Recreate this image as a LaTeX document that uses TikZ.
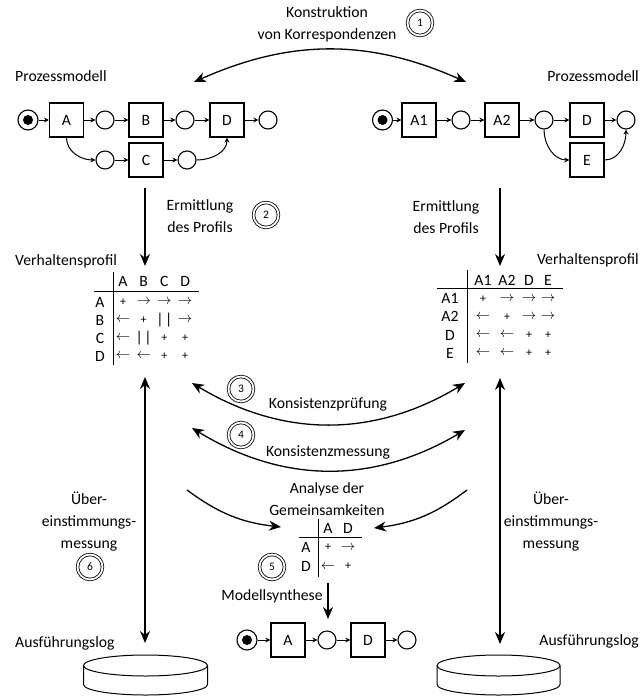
\documentclass[tikz,border=0pt]{standalone}
\usepackage{fontspec}
\setmainfont{Carlito}
\usetikzlibrary{arrows.meta}

\newcommand{\fwdrel}{{\fontsize{15.5}{15.5}\selectfont$\rightarrow$}}
\newcommand{\bwdrel}{{\fontsize{15.5}{15.5}\selectfont$\leftarrow$}}
\newcommand{\exclrel}{|\kern1.5pt|}
\newcommand{\inrel}{{\fontsize{12}{12}\selectfont+}}

\tikzset{
	trans/.style={draw, line width=1.2pt, minimum size=34pt, inner sep=0pt},
	place/.style={draw, circle, line width=1.1pt, minimum size=18pt, inner sep=0pt},
	startplace/.style={place, minimum size=20pt, path picture={\fill (path picture bounding box.center) circle (5pt);}},
	flow/.style={-{Stealth[length=5pt,width=5pt]}, line width=1pt},
	bigarrow/.style={-{Stealth[length=12pt,width=10pt]}, line width=1.3pt},
	twoway/.style={{Stealth[length=12pt,width=10pt]}-{Stealth[length=12pt,width=10pt]}, line width=1.3pt},
	stepno/.style={circle, draw, double, line width=0.8pt, double distance=1.8pt, minimum size=25pt, inner sep=0pt, font=\fontsize{11.5}{11.5}\selectfont},
	txt/.style={align=center, inner sep=0pt},
	cell/.style={inner sep=0pt},
}

\begin{document}
\begin{tikzpicture}[x=1pt, y=1pt, font=\fontsize{15.7}{22}\selectfont]
	\useasboundingbox (0,0) rectangle (640,-696);

	% Prozessmodell links
	\node[txt, anchor=west] (pmL) at (15,-76) {Prozessmodell};
	\node[startplace] (ls) at (28,-120) {};
	\node[trans] (lA) at (66.5,-120) {A};
	\node[place] (lp1) at (105,-120) {};
	\node[trans] (lB) at (146,-120) {B};
	\node[place] (lp2) at (185,-120) {};
	\node[trans] (lD) at (227,-120) {D};
	\node[place] (lp3) at (268,-120) {};
	\node[place] (lp4) at (105,-160) {};
	\node[trans] (lC) at (146,-160) {C};
	\node[place] (lp5) at (187,-160) {};
	\draw[flow] (ls) -- (lA);
	\draw[flow] (lA) -- (lp1);
	\draw[flow] (lp1) -- (lB);
	\draw[flow] (lB) -- (lp2);
	\draw[flow] (lp2) -- (lD);
	\draw[flow] (lD) -- (lp3);
	\draw[flow] (lp4) -- (lC);
	\draw[flow] (lC) -- (lp5);
	\draw[flow] (lA.south) to[out=-90, in=180] (lp4);
	\draw[flow] (lp5) to[out=0, in=-90] (lD.south);

	% Prozessmodell rechts
	\node[txt, anchor=east] (pmR) at (639,-76) {Prozessmodell};
	\node[startplace] (rs) at (382.5,-120) {};
	\node[trans] (rA1) at (419,-120) {A1};
	\node[place] (rp1) at (461,-120) {};
	\node[trans] (rA2) at (502,-120) {A2};
	\node[place] (rp2) at (544,-120) {};
	\node[trans] (rD) at (587,-120) {D};
	\node[place] (rp3) at (626,-120) {};
	\node[trans] (rE) at (587,-160) {E};
	\draw[flow] (rs) -- (rA1);
	\draw[flow] (rA1) -- (rp1);
	\draw[flow] (rp1) -- (rA2);
	\draw[flow] (rA2) -- (rp2);
	\draw[flow] (rp2) -- (rD);
	\draw[flow] (rD) -- (rp3);
	\draw[flow] (rp2.south) to[out=-90, in=180] (rE.west);
	\draw[flow] (rE.east) to[out=0, in=-90] (rp3.south);

	% (1) Korrespondenzen
	\node[txt] (korr) at (327,-24) {Konstruktion\\von Korrespondenzen};
	\node[stepno] (n1) at (420,-23) {1};
	\coordinate (k1l) at (194,-82);
	\coordinate (k1r) at (466,-82);
	\draw[twoway] (k1l) to[bend left=24] (k1r);

	% (2) Ermittlung des Profils
	\node[txt] (ermL) at (200,-216) {Ermittlung\\des Profils};
	\node[stepno] (n2) at (266,-215) {2};
	\node[txt] (ermR) at (446,-217) {Ermittlung\\des Profils};
	\coordinate (e1) at (145,-188);
	\coordinate (e2) at (145,-266);
	\coordinate (e3) at (500,-188);
	\coordinate (e4) at (500,-266);
	\draw[bigarrow] (e1) -- (e2);
	\draw[bigarrow] (e3) -- (e4);

	% Verhaltensprofil links
	\node[txt, anchor=west] (vpL) at (15,-261) {Verhaltensprofil};
	\foreach \name [count=\i] in {A,B,C,D} {
		\node[cell] (lh\i) at ({102.3+20.7*\i},-281) {\name};
		\node[cell] (lr\i) at (100,{-284-18*\i}) {\name};
	}
	\foreach \row [count=\i] in {{\inrel,\fwdrel,\fwdrel,\fwdrel},{\bwdrel,\inrel,\exclrel,\fwdrel},{\bwdrel,\exclrel,\inrel,\inrel},{\bwdrel,\bwdrel,\inrel,\inrel}}
		\foreach \e [count=\j] in \row
			\node[cell] (lm-\i-\j) at (lh\j |- lr\i) {\e};
	\draw[line width=1pt] (113,-272) -- (113,-365);
	\draw[line width=1pt] (94,-291) -- (199,-291);

	% Verhaltensprofil rechts
	\node[txt, anchor=east] (vpR) at (639,-260) {Verhaltensprofil};
	\foreach \name/\x [count=\i] in {A1/483,A2/507,D/529,E/548} {
		\node[cell] (rh\i) at (\x,-280) {\name};
		\node[cell] (rr\i) at (450,{-280.5-18.2*\i}) {\name};
	}
	\foreach \row [count=\i] in {{\inrel,\fwdrel,\fwdrel,\fwdrel},{\bwdrel,\inrel,\fwdrel,\fwdrel},{\bwdrel,\bwdrel,\inrel,\inrel},{\bwdrel,\bwdrel,\inrel,\inrel}}
		\foreach \e [count=\j] in \row
			\node[cell] (rm-\i-\j) at (rh\j |- rr\i) {\e};
	\draw[line width=1pt] (467,-270) -- (467,-363);
	\draw[line width=1pt] (437,-288) -- (563,-288);

	% (3) und (4)
	\node[stepno] (n3) at (241,-389) {3};
	\node[txt] (kpr) at (328,-404) {Konsistenzprüfung};
	\coordinate (k3l) at (192,-383);
	\coordinate (k3r) at (465,-383);
	\draw[twoway] (k3l) to[bend right=31] (k3r);
	\node[stepno] (n4) at (241,-435) {4};
	\node[txt] (kme) at (328,-452) {Konsistenzmessung};
	\coordinate (k4l) at (192,-428);
	\coordinate (k4r) at (465,-430);
	\draw[twoway] (k4l) to[bend right=31] (k4r);

	% (5) Gemeinsamkeiten und Synthese
	\node[txt] (gem) at (327,-499) {Analyse der\\Gemeinsamkeiten};
	\coordinate (g1) at (187,-490);
	\coordinate (g2) at (281,-527);
	\coordinate (g3) at (467,-490);
	\coordinate (g4) at (374,-528);
	\draw[bigarrow] (g1) to[bend right=15] (g2);
	\draw[bigarrow] (g3) to[bend left=15] (g4);
	\foreach \name [count=\i] in {A,D} {
		\node[cell] (gh\i) at ({308+20*\i},-528) {\name};
		\node[cell] (gr\i) at (306,{-528.5-19*\i}) {\name};
	}
	\node[cell] (gm-1-1) at (gh1 |- gr1) {\inrel};
	\node[cell] (gm-1-2) at (gh2 |- gr1) {\fwdrel};
	\node[cell] (gm-2-1) at (gh1 |- gr2) {\bwdrel};
	\node[cell] (gm-2-2) at (gh2 |- gr2) {\inrel};
	\draw[line width=1pt] (318,-519) -- (318,-577);
	\draw[line width=1pt] (299,-537) -- (362,-537);
	\node[stepno] (n5) at (272,-567) {5};
	\node[txt] (syn) at (272,-596) {Modellsynthese};
	\coordinate (s1) at (328,-583);
	\coordinate (s2) at (328,-619);
	\draw[bigarrow] (s1) -- (s2);

	% synthetisiertes Modell
	\node[startplace] (bs) at (247,-640) {};
	\node[trans] (bA) at (288,-640) {A};
	\node[place] (bp1) at (327,-640) {};
	\node[trans] (bD) at (368,-640) {D};
	\node[place] (bp2) at (407,-640) {};
	\draw[flow] (bs) -- (bA);
	\draw[flow] (bA) -- (bp1);
	\draw[flow] (bp1) -- (bD);
	\draw[flow] (bD) -- (bp2);

	% (6) Uebereinstimmung mit dem Log
	\node[txt] (uebL) at (89,-522) {Über-\\einstimmungs-\\messung};
	\node[stepno] (n6) at (90,-567) {6};
	\node[txt] (uebR) at (551,-522) {Über-\\einstimmungs-\\messung};
	\coordinate (u1) at (145,-377);
	\coordinate (u2) at (145,-643);
	\coordinate (u3) at (500,-378);
	\coordinate (u4) at (500,-644);
	\draw[twoway] (u1) -- (u2);
	\draw[twoway] (u3) -- (u4);

	% Ausfuehrungslogs
	\node[txt, anchor=west] (logL) at (15,-643) {Ausführungslog};
	\node[txt, anchor=east] (logR) at (639,-641) {Ausführungslog};
	\draw[line width=1pt] (83.5,-665.5) -- (83.5,-684.5) arc[start angle=180, end angle=360, x radius=62, y radius=10.5] -- (207.5,-665.5);
	\draw[line width=1pt] (145.5,-665.5) ellipse [x radius=62, y radius=10.5];
	\draw[line width=1pt] (437,-665.5) -- (437,-684.5) arc[start angle=180, end angle=360, x radius=61.5, y radius=10.5] -- (560,-665.5);
	\draw[line width=1pt] (498.5,-665.5) ellipse [x radius=61.5, y radius=10.5];
\end{tikzpicture}
\end{document}
